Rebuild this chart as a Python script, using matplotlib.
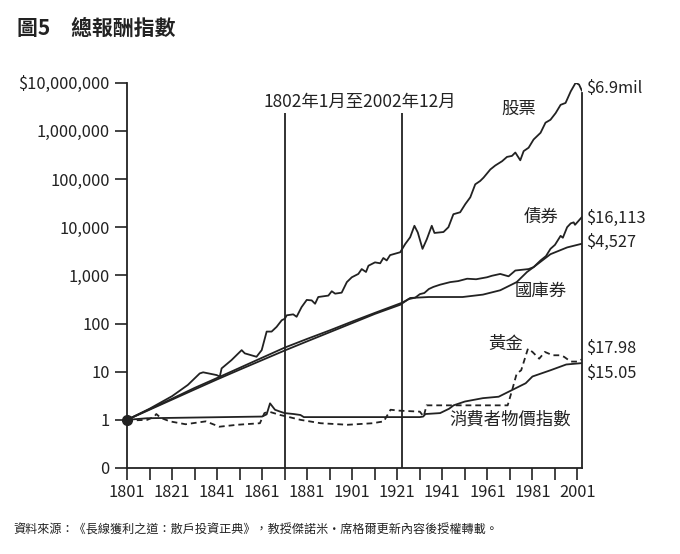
import numpy as np
import matplotlib
matplotlib.use("Agg")
import matplotlib.pyplot as plt

plt.rcParams['font.family'] = ['Noto Sans CJK TC', 'DejaVu Sans']

### data (value of $1 invested in 1802)
stock_years = [1801, 1811, 1821, 1828, 1833.3, 1834.8, 1840.8, 1842.2, 1843, 1847.4, 1851.9, 1853.3,
               1858.5, 1860.8, 1863, 1865.2, 1867.4, 1869.7, 1871.1, 1871.9, 1874.8, 1876.3, 1878.5,
               1880.8, 1883, 1884.5, 1885.9, 1890.4, 1891.9, 1893.4, 1896.3, 1898.6, 1900.8, 1903.7,
               1905.2, 1907.1, 1908.2, 1911.1, 1913.4, 1914.8, 1916.3, 1917.8, 1922.3, 1924.5, 1926.7,
               1928.6, 1930.1, 1932.2, 1934.1, 1936.3, 1937.5, 1941.5, 1943.7, 1945.9, 1948.9, 1951.2,
               1953.4, 1955.6, 1957.8, 1959.3, 1962.3, 1964.5, 1967.5, 1969.7, 1971.9, 1973.4, 1975.6,
               1977.1, 1979.3, 1981.5, 1984.6, 1986.8, 1989, 1991.3, 1993.5, 1995.7, 1998, 2000.2,
               2001.7, 2002.9]
stock_values = [1, 1.7, 3.1, 5.3, 9.2, 9.7, 8.5, 7.9, 11.7, 17.4, 28, 24,
                20.4, 28, 68, 68, 85, 117, 126, 148, 155, 138, 219,
                309, 302, 257, 355, 380, 468, 417, 437, 724, 912, 1070,
                1350, 1175, 1585, 1860, 1780, 2290, 2040, 2630, 3020, 4470, 6170,
                10700, 7760, 3550, 5620, 10700, 7590, 7940, 10000, 18600, 20400, 30200,
                41700, 77600, 91200, 107000, 158000, 191000, 234000, 288000, 302000, 355000, 245000,
                380000, 447000, 661000, 912000, 1480000, 1700000, 2340000, 3470000, 3800000, 6610000, 10000000,
                9120000, 6900000]

bond_years = [1801, 1811, 1821, 1831, 1841, 1851, 1861, 1871, 1881, 1891, 1901, 1911, 1923, 1926,
              1929, 1931, 1933, 1935, 1937, 1940, 1944.5, 1948, 1952, 1956, 1960.8, 1963, 1966.7,
              1970.4, 1973.4, 1976, 1979.3, 1981.5, 1984.6, 1987, 1989, 1991, 1993.5, 1994.5, 1996.4,
              1998, 1999.3, 1999.9, 2002.9]
bond_values = [1, 1.66, 2.75, 4.6, 7.4, 12, 19.5, 31.6, 48, 72, 110, 166, 269, 320,
               345, 407, 430, 520, 575, 640, 724, 760, 851, 830, 912, 980, 1070,
               955, 1260, 1300, 1350, 1480, 2040, 2510, 3550, 4300, 6610, 6030, 10000,
               12000, 12600, 11200, 16113]

bill_years = [1801, 1811, 1821, 1831, 1841, 1851, 1861, 1871, 1881, 1891, 1901, 1911, 1922.3, 1926.7,
              1935, 1950, 1959, 1966.7, 1974, 1978.6, 1981.5, 1989, 1996.4, 2002.9]
bill_values = [1, 1.62, 2.63, 4.27, 6.9, 11, 17.4, 27.5, 42.7, 66, 102, 158, 245, 339,
               355, 355, 398, 490, 724, 1175, 1480, 2750, 3800, 4527]

cpi_years = [1801, 1810, 1861, 1863, 1864.5, 1866.7, 1869, 1871, 1875, 1878, 1879.5, 1931, 1932.5,
             1933.5, 1940, 1944, 1946, 1951, 1959, 1966, 1972, 1978, 1981, 1989, 1996, 2002.9]
cpi_values = [1.0, 1.08, 1.17, 1.3, 2.2, 1.62, 1.48, 1.38, 1.32, 1.26, 1.14, 1.14, 1.17,
              1.32, 1.38, 1.70, 2.0, 2.4, 2.82, 3.02, 4.17, 5.75, 7.94, 10.7, 14.1, 15.05]

gold_years = [1801, 1805, 1810, 1813, 1814, 1816, 1820, 1827, 1836, 1842, 1850, 1860, 1862, 1864,
              1869, 1872, 1878, 1887, 1899, 1910, 1915, 1918, 1922, 1931, 1932.7, 1934, 1970, 1972,
              1974, 1976, 1979, 1981, 1984, 1986.5, 1990, 1993, 1995, 1998, 2001, 2002.9]
gold_values = [1.0, 0.98, 1.0, 1.15, 1.32, 1.1, 0.93, 0.81, 0.93, 0.72, 0.79, 0.85, 1.38, 1.48,
               1.26, 1.17, 1.0, 0.85, 0.79, 0.85, 0.93, 1.62, 1.55, 1.48, 1.17, 2.0, 2.0, 4.17,
               9.1, 10.7, 30, 25.7, 18.6, 25.7, 21.9, 21.9, 20.4, 16.2, 16.2, 17.98]

y_ticks = [0.1, 1, 10, 100, 1000, 10000, 100000, 1000000, 10000000]
y_labels = ['0', '1', '10', '100', '1,000', '10,000', '100,000', '1,000,000', '$10,000,000']
x_ticks = list(range(1801, 2002, 10))
x_labels = [str(y) if (y - 1801) % 20 == 0 else '' for y in x_ticks]

end_labels = ['$6.9mil', '$16,113', '$4,527', '$17.98', '$15.05']
end_values = [6.9e6, 16113, 4527, 17.98, 15.05]
end_nudge = [1.12, 0.96, 1.08, 1.68, 0.61]

ink = '#222222'
fig = plt.figure(figsize=(6.8, 5.54), dpi=100)
ax = fig.add_axes([127/680, 86/554, 455/680, 385.3/554])

lw = 1.3
ax.plot(stock_years, stock_values, color=ink, lw=lw)
ax.plot(bond_years, bond_values, color=ink, lw=lw)
ax.plot(bill_years, bill_values, color=ink, lw=lw)
ax.plot(cpi_years, cpi_values, color=ink, lw=lw)
ax.plot(gold_years, gold_values, color=ink, lw=lw, linestyle=(0, (3.2, 2.2)))
ax.plot([1801], [1], 'o', color=ink, markersize=7, clip_on=False, zorder=5)

ax.set_yscale('log')
ax.set_xlim(1801, 2003)
ax.set_ylim(0.1, 1e7)

ax.vlines([1871, 1923], 0.1, 10**6.38, color=ink, lw=1.3)
ax.text(1904.5, 10**6.6, '1802年1月至2002年12月', fontsize=12.5, color=ink, ha='center', va='center')

ax.text(1975, 10**6.45, '股票', fontsize=12.5, color=ink, ha='center', va='center')
ax.text(1985, 10**4.22, '債券', fontsize=12.5, color=ink, ha='center', va='center')
ax.text(1984.5, 10**2.68, '國庫券', fontsize=12.5, color=ink, ha='center', va='center')
ax.text(1969, 10**1.58, '黃金', fontsize=12.5, color=ink, ha='center', va='center')
ax.text(1971, 10**0.01, '消費者物價指數', fontsize=12.5, color=ink, ha='center', va='center')

for lab, v, k in zip(end_labels, end_values, end_nudge):
    ax.text(2005, v * k, lab, fontsize=11.8, color=ink, ha='left', va='center', clip_on=False)

ax.set_yticks(y_ticks)
ax.set_yticklabels(y_labels)
ax.minorticks_off()
ax.set_xticks(x_ticks)
ax.set_xticklabels(x_labels)
ax.tick_params(axis='both', length=8.5, width=1.2, color=ink, labelcolor=ink, labelsize=11.8, direction='out')
ax.tick_params(axis='y', pad=4)
ax.tick_params(axis='x', pad=3)

ax.spines['top'].set_visible(False)
for s in ['left', 'bottom', 'right']:
    ax.spines[s].set_color(ink)
    ax.spines[s].set_linewidth(1.3)
ax.spines['right'].set_bounds(0.1, 10**6.78)

fig.text(17/680, 1 - 28/554, '圖5　總報酬指數', fontsize=15, fontweight='bold', color=ink, va='center', ha='left')
fig.text(13/680, 1 - 530/554, '資料來源：《長線獲利之道：散戶投資正典》，教授傑諾米·席格爾更新內容後授權轉載。',
         fontsize=8.7, color=ink, va='center', ha='left')

fig.savefig('out.png', dpi=100)
